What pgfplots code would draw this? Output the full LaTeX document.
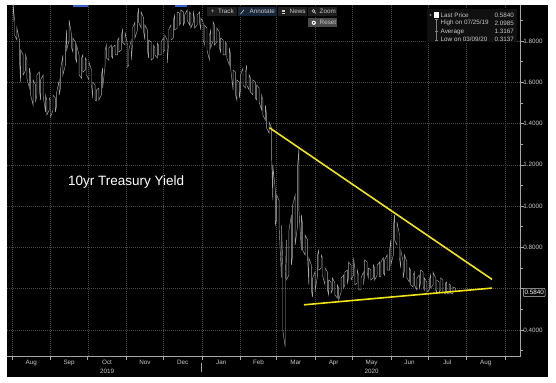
\documentclass[border=0pt]{standalone}
\usepackage{fontspec}
\setmainfont{Liberation Sans}
\usepackage{pgfplots}
\pgfplotsset{compat=1.18}
\definecolor{gridc}{RGB}{72,72,72}
\definecolor{axc}{RGB}{165,165,165}
\definecolor{lblc}{RGB}{200,200,200}
\definecolor{datac}{RGB}{165,165,165}
\definecolor{yel}{RGB}{240,228,20}
\definecolor{btnc}{RGB}{30,30,30}
\definecolor{annc}{RGB}{24,38,58}
\definecolor{legc}{RGB}{16,16,16}
\definecolor{bluec}{RGB}{50,100,210}
\newcommand{\sm}{\fontsize{6.3bp}{8.5bp}\selectfont}
\begin{document}
\begin{tikzpicture}[x=1bp,y=1bp]
\fill[white] (0,0) rectangle (556,382);
\fill[black] (7,5) rectangle (548,377);
\begin{axis}[
  at={(7bp,26bp)}, anchor=south west, scale only axis,
  width=513.7bp, height=351bp,
  xmin=-4.03, xmax=409.6, ymin=0.274, ymax=1.974,
  axis x line*=bottom, axis y line*=right,
  axis line style={draw=axc, line width=0.8bp},
  tick align=outside, major tick length=3.5bp, minor tick length=2bp,
  tick style={draw=axc, line width=0.6bp},
  xtick={0,31,61,92,122,153,184,213,244,274,305,335,366,397},
  xticklabels={},
  extra x ticks={15.5,46,76.5,107,137.5,168.5,198.5,228.5,259,289.5,320,350.5,381.5},
  extra x tick labels={Aug,Sep,{Oct\\2019},Nov,Dec,Jan,Feb,Mar,Apr,{May\\2020},Jun,Jul,Aug},
  extra x tick style={major tick length=0pt, grid=none, xticklabel style={align=center}},
  xticklabel style={font=\sm, text=lblc, inner sep=0pt, yshift=-4bp},
  ytick={0.4,0.6,0.8,1.0,1.2,1.4,1.6,1.8},
  yticklabels={0.4000,,0.8000,1.0000,1.2000,1.4000,1.6000,1.8000},
  minor ytick={0.3,0.5,0.7,0.9,1.1,1.3,1.5,1.7,1.9},
  yticklabel style={font=\sm, text=lblc, inner sep=0pt, xshift=-1bp},
  grid=major,
  major grid style={draw=gridc, dash pattern=on 0.8bp off 1.2bp, line width=0.5bp},
]
\addplot[datac, line width=0.45bp, mark=none] coordinates {
(1,1.891)(1,1.98)(2,1.901)(2,1.828)(4,1.804)(4,1.862)(6,1.804)(6,1.707)
(7,1.601)(7,1.756)(9,1.732)(9,1.635)(11,1.659)(11,1.732)(12,1.707)(12,1.620)
(14,1.572)(14,1.669)(15,1.635)(15,1.538)(17,1.489)(17,1.611)(19,1.586)(19,1.504)
(20,1.538)(20,1.635)(22,1.649)(22,1.562)(23,1.514)(23,1.611)(25,1.635)(25,1.538)
(27,1.456)(27,1.538)(28,1.514)(28,1.441)(30,1.465)(30,1.523)(31,1.514)(31,1.431)
(33,1.465)(33,1.538)(35,1.523)(35,1.456)(36,1.489)(36,1.552)(38,1.611)(38,1.538)
(39,1.572)(39,1.659)(41,1.732)(41,1.635)(43,1.683)(43,1.756)(44,1.853)(44,1.756)
(46,1.804)(46,1.901)(48,1.828)(48,1.766)(49,1.746)(49,1.814)(51,1.795)(51,1.717)
(52,1.698)(52,1.780)(54,1.732)(54,1.635)(56,1.620)(56,1.717)(57,1.732)(57,1.649)
(59,1.659)(59,1.717)(60,1.707)(60,1.635)(62,1.611)(62,1.698)(64,1.659)(64,1.586)
(65,1.523)(65,1.601)(67,1.586)(67,1.514)(68,1.509)(68,1.562)(70,1.572)(70,1.514)
(72,1.538)(72,1.635)(73,1.669)(73,1.572)(75,1.683)(75,1.756)(76,1.780)(76,1.717)
(78,1.707)(78,1.766)(80,1.780)(80,1.727)(81,1.717)(81,1.770)(83,1.780)(83,1.732)
(85,1.732)(85,1.804)(86,1.814)(86,1.746)(88,1.756)(88,1.828)(89,1.853)(89,1.795)
(91,1.780)(91,1.843)(93,1.780)(93,1.673)(94,1.683)(94,1.756)(96,1.804)(96,1.707)
(97,1.780)(97,1.862)(99,1.891)(99,1.814)(101,1.853)(101,1.925)(102,1.959)(102,1.891)
(104,1.862)(104,1.940)(106,1.911)(106,1.843)(107,1.804)(107,1.877)(109,1.853)(109,1.756)
(110,1.717)(110,1.804)(112,1.795)(112,1.707)(114,1.717)(114,1.780)(115,1.766)(115,1.732)
(117,1.717)(117,1.790)(118,1.780)(118,1.732)(120,1.732)(120,1.795)(122,1.814)(122,1.746)
(123,1.756)(123,1.828)(125,1.804)(125,1.693)(126,1.780)(126,1.853)(128,1.877)(128,1.804)
(130,1.814)(130,1.901)(131,1.925)(131,1.853)(133,1.862)(133,1.940)(135,1.935)(135,1.877)
(136,1.891)(136,1.950)(138,1.940)(138,1.877)(139,1.891)(139,1.925)(141,1.950)(141,1.901)
(143,1.877)(143,1.940)(144,1.930)(144,1.862)(146,1.891)(146,1.940)(147,1.911)(147,1.862)
(149,1.877)(149,1.925)(151,1.940)(151,1.891)(152,1.853)(152,1.911)(154,1.891)(154,1.804)
(155,1.780)(155,1.877)(157,1.862)(157,1.756)(159,1.707)(159,1.828)(160,1.853)(160,1.766)
(162,1.804)(162,1.891)(163,1.877)(163,1.780)(165,1.795)(165,1.862)(167,1.843)(167,1.766)
(168,1.746)(168,1.814)(170,1.804)(170,1.732)(172,1.732)(172,1.795)(173,1.780)(173,1.717)
(175,1.683)(175,1.766)(176,1.732)(176,1.669)(178,1.562)(178,1.659)(180,1.649)(180,1.538)
(181,1.514)(181,1.611)(183,1.601)(183,1.523)(184,1.562)(184,1.635)(186,1.669)(186,1.586)
(188,1.572)(188,1.649)(189,1.683)(189,1.586)(191,1.562)(191,1.635)(192,1.620)(192,1.552)
(194,1.538)(194,1.611)(196,1.601)(196,1.523)(197,1.514)(197,1.586)(199,1.572)(199,1.504)
(201,1.465)(201,1.538)(202,1.514)(202,1.441)(204,1.417)(204,1.489)(205,1.441)(205,1.378)
(207,1.354)(207,1.407)(209,1.378)(209,1.247)(210,1.029)(210,1.199)(212,1.078)(212,0.908)
(213,0.933)(213,1.054)(215,1.029)(215,0.908)(217,0.652)(217,0.908)(218,0.715)(218,0.400)
(220,0.317)(220,0.642)(221,0.836)(221,0.642)(223,0.666)(223,0.884)(225,0.957)(225,0.715)
(226,0.763)(226,1.005)(228,1.054)(228,0.811)(230,0.908)(230,1.199)(231,1.281)(231,0.981)
(233,0.787)(233,0.957)(234,0.908)(234,0.787)(236,0.763)(236,0.860)(238,0.836)(238,0.749)
(239,0.618)(239,0.749)(241,0.715)(241,0.594)(242,0.560)(242,0.652)(244,0.681)(244,0.584)
(246,0.666)(246,0.763)(247,0.787)(247,0.690)(249,0.700)(249,0.763)(250,0.749)(250,0.666)
(252,0.618)(252,0.700)(254,0.681)(254,0.594)(255,0.569)(255,0.642)(257,0.632)(257,0.579)
(258,0.594)(258,0.652)(260,0.627)(260,0.569)(262,0.555)(262,0.618)(263,0.603)(263,0.545)
(265,0.584)(265,0.652)(267,0.666)(267,0.603)(268,0.618)(268,0.681)(270,0.690)(270,0.627)
(271,0.652)(271,0.729)(273,0.715)(273,0.642)(275,0.666)(275,0.749)(276,0.700)(276,0.618)
(278,0.627)(278,0.690)(279,0.666)(279,0.594)(281,0.594)(281,0.652)(283,0.681)(283,0.618)
(284,0.666)(284,0.739)(286,0.729)(286,0.676)(287,0.652)(287,0.700)(289,0.690)(289,0.642)
(291,0.652)(291,0.715)(292,0.700)(292,0.642)(294,0.666)(294,0.715)(296,0.729)(296,0.657)
(297,0.661)(297,0.729)(299,0.749)(299,0.676)(300,0.666)(300,0.739)(302,0.763)(302,0.690)
(304,0.690)(304,0.787)(305,0.836)(305,0.715)(307,0.763)(307,0.894)(308,0.957)(308,0.836)
(310,0.811)(310,0.923)(312,0.860)(312,0.749)(313,0.700)(313,0.787)(315,0.729)(315,0.652)
(316,0.690)(316,0.763)(318,0.729)(318,0.652)(320,0.632)(320,0.700)(321,0.690)(321,0.618)
(323,0.608)(323,0.666)(324,0.681)(324,0.618)(326,0.594)(326,0.652)(328,0.666)(328,0.603)
(329,0.627)(329,0.690)(331,0.681)(331,0.613)(332,0.594)(332,0.652)(334,0.632)(334,0.584)
(336,0.594)(336,0.642)(337,0.666)(337,0.603)(339,0.618)(339,0.681)(341,0.652)(341,0.594)
(342,0.584)(342,0.642)(344,0.632)(344,0.579)(345,0.594)(345,0.652)(347,0.642)(347,0.584)
(349,0.574)(349,0.627)(350,0.632)(350,0.579)(352,0.574)(352,0.623)(353,0.618)(353,0.579)
(355,0.574)(355,0.608)(357,0.603)(357,0.584)
};
\addplot[yel, line width=1.6bp, mark=none] coordinates {(207.2,1.380) (386.5,0.645)};
\addplot[yel, line width=1.6bp, mark=none] coordinates {(235.1,0.522) (386.5,0.603)};
\end{axis}
% year separator
\draw[axc, line width=0.6bp] (201,19) -- (201,10);
% blue markers at top
\fill[bluec] (72.7,375.3) rectangle (88.3,377);
\fill[bluec] (175,375.3) rectangle (186.7,377);
% title
\node[anchor=west, text=white, font=\fontsize{13.5bp}{16bp}\selectfont, inner sep=0pt] at (68,200) {10yr Treasury Yield};
% toolbar
\fill[btnc] (206.7,366) rectangle (236.7,374.7);
\node[anchor=center, text=lblc, font=\sm, inner sep=0pt] at (212.7,370.3) {+};
\node[anchor=west, text=lblc, font=\sm, inner sep=0pt] at (218,370.3) {Track};
\fill[annc] (238,366) rectangle (277,374.7);
\draw[lblc, line width=0.6bp] (240.5,367.8) -- (244,372.3);
\node[anchor=west, text=lblc, font=\sm, inner sep=0pt] at (249.5,370.3) {Annotate};
\fill[btnc] (278.3,366) rectangle (307.3,374.7);
\draw[lblc, line width=0.5bp] (281.7,372) -- (285,372) (281.7,370.3) -- (285,370.3) (281.7,368.6) -- (285,368.6);
\node[anchor=west, text=lblc, font=\sm, inner sep=0pt] at (289.5,370.3) {News};
\fill[btnc] (308.3,366) rectangle (337.3,374.7);
\draw[lblc, line width=0.5bp] (313.5,371) circle (1.5) (314.6,369.9) -- (316,368.4);
\node[anchor=west, text=lblc, font=\sm, inner sep=0pt] at (319.5,370.3) {Zoom};
\fill[btnc!80!white] (308.3,354.7) rectangle (337.3,363.7);
\fill[white] (313.8,359.2) circle (2.1);
\fill[black] (313.8,359.2) circle (0.8);
\node[anchor=west, text=lblc, font=\sm, inner sep=0pt] at (319.5,359.2) {Reset};
% legend box
\fill[legc] (426.7,340.5) rectangle (516.7,372.5);
\fill[gray] (430.5,367) circle (1.2);
\fill[white] (433.8,364.3) rectangle (439.2,369.7);
\draw[gray, line width=0.5bp] (436.5,362.5) -- (436.5,341.8);
\draw[gray, line width=0.5bp] (434.8,362.5) -- (438.2,362.5);
\draw[gray, line width=0.5bp] (434.8,350.5) -- (438.2,350.5);
\draw[gray, line width=0.5bp] (434.8,341.8) -- (438.2,341.8);
\node[anchor=west, text=lblc, font=\sm, inner sep=0pt] at (440.5,367) {Last Price};
\node[anchor=west, text=lblc, font=\sm, inner sep=0pt] at (440.5,358.8) {High on 07/25/19};
\node[anchor=west, text=lblc, font=\sm, inner sep=0pt] at (440.5,350.3) {Average};
\node[anchor=west, text=lblc, font=\sm, inner sep=0pt] at (440.5,342.6) {Low on 03/09/20};
\node[anchor=east, text=lblc, font=\sm, inner sep=0pt] at (514,367) {0.5840};
\node[anchor=east, text=lblc, font=\sm, inner sep=0pt] at (514,358.8) {2.0985};
\node[anchor=east, text=lblc, font=\sm, inner sep=0pt] at (514,350.3) {1.3167};
\node[anchor=east, text=lblc, font=\sm, inner sep=0pt] at (514,342.6) {0.3137};
% last price box
\draw[lblc, fill=black, rounded corners=1bp, line width=0.5bp] (523.3,85.3) rectangle (545,93.7);
\node[anchor=center, text=white, font=\sm, inner sep=0pt] at (534.2,89.5) {0.5840};
\end{tikzpicture}
\end{document}
